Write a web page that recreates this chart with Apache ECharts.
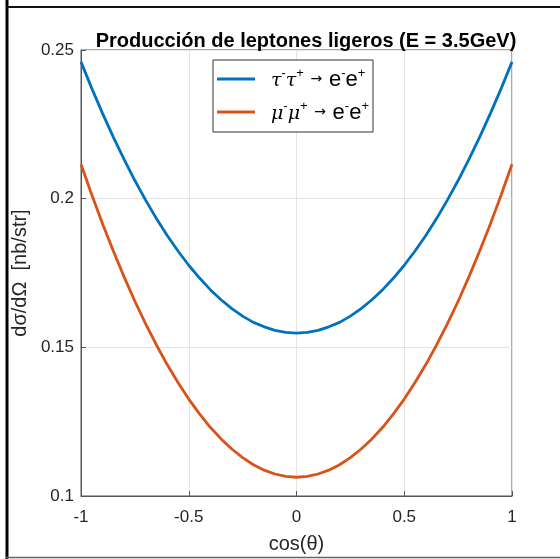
<!DOCTYPE html>
<html>
<head>
<meta charset="utf-8">
<script src="https://cdn.jsdelivr.net/npm/echarts@6/dist/echarts.min.js"></script>
<style>
html,body{margin:0;padding:0;background:#fff;}
#c{width:560px;height:559px;}
</style>
</head>
<body>
<div id="c"></div>
<script>
var cosVals = [-1,-0.95,-0.9,-0.85,-0.8,-0.75,-0.7,-0.65,-0.6,-0.55,-0.5,-0.45,-0.4,-0.35,-0.3,-0.25,-0.2,-0.15,-0.1,-0.05,0,
               0.05,0.1,0.15,0.2,0.25,0.3,0.35,0.4,0.45,0.5,0.55,0.6,0.65,0.7,0.75,0.8,0.85,0.9,0.95,1];
var tauVals = [0.2460,0.2371,0.2287,0.2207,0.2132,0.2061,0.1995,0.1933,0.1876,0.1824,0.1776,0.1733,0.1694,0.1660,0.1630,0.1605,0.1584,0.1569,0.1557,0.1550,0.1548,
               0.1550,0.1557,0.1569,0.1584,0.1605,0.1630,0.1660,0.1694,0.1733,0.1776,0.1824,0.1876,0.1933,0.1995,0.2061,0.2132,0.2207,0.2287,0.2371,0.2460];
var muVals  = [0.2116,0.2013,0.1916,0.1824,0.1737,0.1655,0.1579,0.1508,0.1442,0.1382,0.1326,0.1276,0.1231,0.1192,0.1158,0.1129,0.1105,0.1087,0.1074,0.1066,0.1063,
               0.1066,0.1074,0.1087,0.1105,0.1129,0.1158,0.1192,0.1231,0.1276,0.1326,0.1382,0.1442,0.1508,0.1579,0.1655,0.1737,0.1824,0.1916,0.2013,0.2116];
var xTicks = {min:-1, max:1, step:0.5};
var yTicks = {min:0.1, max:0.25, step:0.05};
var seriesNames = ['tau','mu'];
var legendLabels = {
  tau: '{g|}{i|τ}{s|-}{i|τ}{s|+}{a|→}{t|e}{s|-}{t|e}{s|+}',
  mu:  '{g|}{i|μ}{s|-}{i|μ}{s|+}{a|→}{t|e}{s|-}{t|e}{s|+}'
};

function pairs(xs, ys){ return xs.map(function(x,i){return [x, ys[i]];}); }

var chart = echarts.init(document.getElementById('c'), null, {renderer:'canvas'});
var font = 'Liberation Sans, Arial, Helvetica, sans-serif';
chart.setOption({
  backgroundColor:'#fff',
  animation:false,
  title:{
    text:'Producción de leptones ligeros (E = 3.5GeV)',
    left:301, top:26, textAlign:'center',
    textStyle:{fontFamily:font, fontSize:20, fontWeight:'bold', color:'#000'}
  },
  legend:{
    orient:'vertical', left:213, top:60,
    data:seriesNames,
    icon:'rect',
    borderColor:'#333', borderWidth:1, backgroundColor:'#fff', borderRadius:0,
    padding:[7,4,8,4],
    itemWidth:38, itemHeight:3, itemGap:9,
    formatter:function(n){return legendLabels[n];},
    textStyle:{
      fontFamily:font, color:'#000', fontSize:20, lineHeight:24,
      rich:{
        g:{width:11, lineHeight:24},
        i:{fontFamily:'DejaVu Serif, serif', fontStyle:'italic', fontSize:19, color:'#000', verticalAlign:'bottom', lineHeight:20},
        t:{fontFamily:font, fontSize:22, color:'#000', verticalAlign:'bottom', lineHeight:20},
        s:{fontFamily:font, fontSize:13, color:'#000', verticalAlign:'top', lineHeight:12},
        a:{fontFamily:'DejaVu Sans, sans-serif', fontSize:14, color:'#000', verticalAlign:'middle', lineHeight:16, width:25, align:'center'}
      }
    }
  },
  grid:{left:81, right:48, top:50, bottom:60, show:true, borderColor:'#555', borderWidth:1, containLabel:false},
  xAxis:{
    type:'value', min:xTicks.min, max:xTicks.max, interval:xTicks.step,
    name:'cos(θ)', nameLocation:'middle', nameGap:38,
    nameTextStyle:{fontFamily:font, fontSize:20, color:'#262626'},
    axisLine:{show:true, onZero:false, lineStyle:{color:'#555', width:1}},
    axisTick:{show:true, inside:true, length:5, lineStyle:{color:'#555'}},
    axisLabel:{fontFamily:font, fontSize:17, color:'#262626', margin:13,
      formatter:function(v){return String(+v.toFixed(2));}},
    splitLine:{show:true, lineStyle:{color:'#e5e5e5', width:1}}
  },
  yAxis:{
    type:'value', min:yTicks.min, max:yTicks.max, interval:yTicks.step,
    name:'dσ/dΩ  [nb/str]', nameLocation:'middle', nameGap:43,
    nameTextStyle:{fontFamily:font, fontSize:20, color:'#262626'},
    axisLine:{show:true, onZero:false, lineStyle:{color:'#555', width:1}},
    axisTick:{show:true, inside:true, length:5, lineStyle:{color:'#555'}},
    axisLabel:{fontFamily:font, fontSize:17, color:'#262626', margin:7,
      formatter:function(v){return String(+v.toFixed(2));}},
    splitLine:{show:true, lineStyle:{color:'#e5e5e5', width:1}}
  },
  series:[
    {name:'tau', type:'line', data:pairs(cosVals, tauVals), smooth:false, symbol:'none', showSymbol:false,
     lineStyle:{color:'#0072BD', width:2.8}, itemStyle:{color:'#0072BD'}},
    {name:'mu', type:'line', data:pairs(cosVals, muVals), smooth:false, symbol:'none', showSymbol:false,
     lineStyle:{color:'#D95319', width:2.8}, itemStyle:{color:'#D95319'}}
  ],
  graphic:[
    {type:'line', shape:{x1:7, y1:0, x2:7, y2:559}, style:{stroke:'#000', lineWidth:3}, silent:true},
    {type:'line', shape:{x1:6, y1:7, x2:560, y2:7}, style:{stroke:'#111', lineWidth:2}, silent:true},
    {type:'line', shape:{x1:6, y1:557.5, x2:560, y2:557.5}, style:{stroke:'#666', lineWidth:1.5}, silent:true}
  ]
});
</script>
</body>
</html>
